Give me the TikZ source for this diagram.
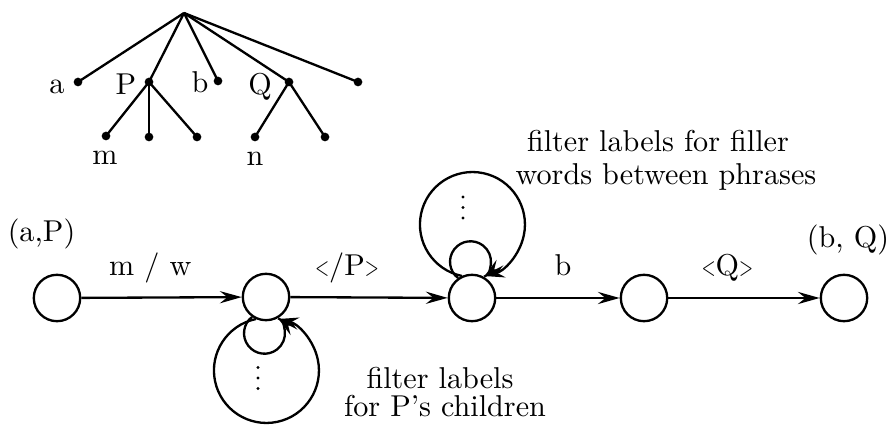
\documentclass[tikz,border=0pt]{standalone}
\usepackage{graphicx}
\usetikzlibrary{arrows.meta}
\newcommand\ltsym{\scalebox{0.6}[0.85]{<}}
\newcommand\gtsym{\scalebox{0.6}[0.85]{>}}
\begin{document}
\begin{tikzpicture}[x=0.3448pt, y=-0.3448pt, line width=0.8pt,
  every node/.style={font=\fontsize{10.4}{12.5}\selectfont},
  state/.style={circle, draw, minimum size=16pt, inner sep=0pt},
  leaf/.style={circle, fill, minimum size=3pt, inner sep=0pt},
  arr/.style={-{Stealth[length=7.5pt,width=4.2pt,inset=2.6pt]}},
  elab/.style={anchor=base, yshift=7.6pt, inner sep=0pt},
  txt/.style={anchor=base, inner sep=0pt}]
\useasboundingbox (0,0) rectangle (889,428);
% tree
\coordinate (root) at (184,13);
\node[leaf] (la) at (78,82) {};
\node[leaf] (lP) at (149,82) {};
\node[leaf] (lb) at (218,81) {};
\node[leaf] (lQ) at (289,82) {};
\node[leaf] (lr) at (358,82) {};
\node[leaf] (lm) at (106,136) {};
\node[leaf] (lPb) at (149,137) {};
\node[leaf] (lPc) at (197,137) {};
\node[leaf] (ln) at (255,137) {};
\node[leaf] (lQb) at (325,137) {};
\draw (root) -- (la.center);
\draw (root) -- (lP.center);
\draw (root) -- (lb.center);
\draw (root) -- (lQ.center);
\draw (root) -- (lr.center);
\draw (lP.center) -- (lm.center);
\draw (lP.center) -- (lPb.center);
\draw (lP.center) -- (lPc.center);
\draw (lQ.center) -- (ln.center);
\draw (lQ.center) -- (lQb.center);
\node[txt] (ta) at (57,94) {a};
\node[txt] (tP) at (126,95) {P};
\node[txt] (tb) at (200,93) {b};
\node[txt] (tQ) at (260,95) {Q};
\node[txt] (tm) at (105,165) {m};
\node[txt] (tn) at (255,166) {n};
% automaton
\node[state] (s1) at (57,298) {};
\node[state] (s2) at (266,297) {};
\node[state] (s3) at (472,298) {};
\node[state] (s4) at (644,298) {};
\node[state] (s5) at (844,298) {};
\node[txt] (lab1) at (41.5,242) {(a,P)};
\node[txt] (lab5) at (848,248) {(b, Q)};
\draw[arr] (s1) -- node[elab, pos=0.43] {m / w} (s2);
\draw[arr] (s2) -- node[elab, pos=0.36] {\ltsym/P\gtsym} (s3);
\draw[arr] (s3) -- node[elab, pos=0.54] {b} (s4);
\draw[arr] (s4) -- node[elab, pos=0.39] {\ltsym Q\gtsym} (s5);
% loops
\draw[arr] (s2.245) arc[start angle=258.2, end angle=-78.2, radius=52.5];
\draw[arr] (s2.235) arc[start angle=232.5, end angle=-52.5, radius=20.5];
\draw[arr] (s3.115) arc[start angle=101.8, end angle=438.2, radius=52.5];
\draw[arr] (s3.125) arc[start angle=127.5, end angle=412.5, radius=20.5];
% vertical ellipses inside the big loops
\foreach \yy in {367.5,378,388.5} \fill (258,\yy) circle[radius=1.7];
\foreach \yy in {197,207.5,218} \fill (463,\yy) circle[radius=1.7];
% notes
\node[txt] (n1a) at (658,152) {filter labels for filler};
\node[txt] (n1b) at (666,185) {words between phrases};
\node[txt] (n2a) at (440,389) {filter labels};
\node[txt] (n2b) at (445,417) {for P’s children};
\end{tikzpicture}
\end{document}
